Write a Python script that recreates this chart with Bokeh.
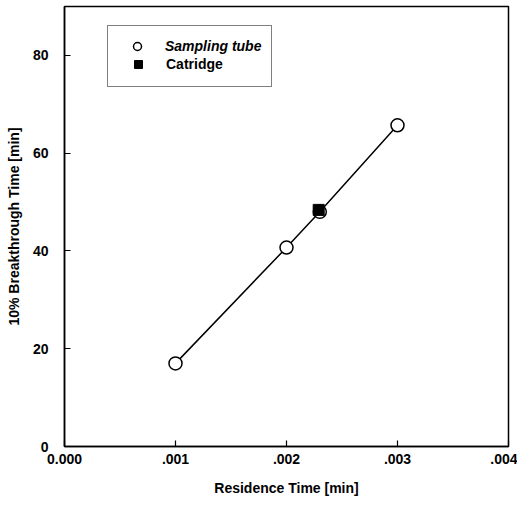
from bokeh.plotting import figure
from bokeh.models import Legend, LegendItem, FixedTicker, Range1d
from bokeh.embed import file_html
from bokeh.resources import INLINE

# data
tube_x = [0.001, 0.002, 0.0023, 0.003]
tube_y = [17.0, 40.7, 48.0, 65.7]
cart_x = [0.00229]
cart_y = [48.4]
x_ticks = [0.0, 0.001, 0.002, 0.003, 0.004]
x_tick_labels = ["0.000", ".001", ".002", ".003", ".004"]
y_ticks = [0, 20, 40, 60, 80]

FONT = "Liberation Sans"

p = figure(width=517, height=498, output_backend="svg", toolbar_location=None,
           x_range=Range1d(0, 0.004), y_range=Range1d(0, 90),
           min_border_left=64, min_border_top=6, min_border_right=9, min_border_bottom=40)
p.grid.visible = False
p.outline_line_color = "black"
p.outline_line_width = 1.5

for ax in (p.xaxis[0], p.yaxis[0]):
    ax.major_tick_in = 6
    ax.major_tick_out = 0
    ax.minor_tick_line_color = None
    ax.axis_line_width = 1.5
    ax.major_tick_line_width = 1.2
    ax.major_label_text_font = FONT
    ax.major_label_text_font_style = "bold"
    ax.major_label_text_font_size = "14px"
    ax.major_label_text_color = "black"
    ax.axis_label_text_font = FONT
    ax.axis_label_text_font_style = "bold"
    ax.axis_label_text_font_size = "14px"
    ax.axis_label_text_color = "black"

p.xaxis.ticker = FixedTicker(ticks=x_ticks)
p.xaxis.major_label_overrides = {t: l for t, l in zip(x_ticks, x_tick_labels)}
p.yaxis.ticker = FixedTicker(ticks=y_ticks)
p.xaxis.axis_label = "Residence Time [min]"
p.yaxis.axis_label = "10% Breakthrough Time [min]"
p.xaxis.major_label_standoff = 7
p.xaxis.axis_label_standoff = 13
p.yaxis.major_label_standoff = 16
p.yaxis.axis_label_standoff = 8

p.line(tube_x, tube_y, line_color="black", line_width=1.5)
r_tube = p.scatter(tube_x, tube_y, marker="circle", size=13, fill_color="white",
                   line_color="black", line_width=1.5)
r_cart = p.scatter(cart_x, cart_y, marker="square", size=11, fill_color="black",
                   line_color="black")
r_dummy = p.scatter([], [], marker="circle", size=1, fill_alpha=0, line_alpha=0)

common = dict(margin=0, spacing=0,
              glyph_width=38, glyph_height=20, label_height=20, label_standoff=9,
              label_text_font=FONT, label_text_font_size="14px",
              label_text_color="black")

leg1 = Legend(items=[LegendItem(label="Sampling tube", renderers=[r_tube]),
                     LegendItem(label=" ", renderers=[r_dummy])],
              location=(43, 359), padding=10,
              label_text_font_style="bold italic", border_line_color="black",
              border_line_width=1.5, background_fill_color="white",
              background_fill_alpha=1, **common)
leg2 = Legend(items=[LegendItem(label="Catridge", renderers=[r_cart])],
              location=(55, 372), padding=10,
              label_text_font_style="bold", border_line_color=None,
              background_fill_alpha=0, **common)
p.add_layout(leg1)
p.add_layout(leg2)

open("out.html", "w").write(file_html(p, INLINE))
